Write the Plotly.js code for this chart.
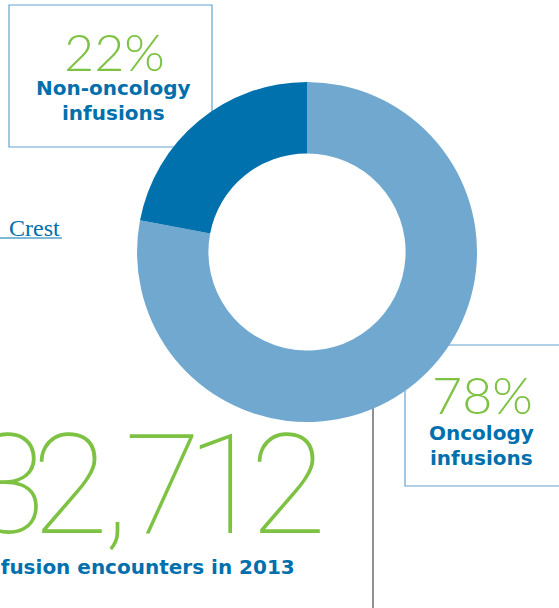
<!DOCTYPE html>
<html><head><meta charset="utf-8">
<script src="https://cdn.plot.ly/plotly-3.0.1.min.js"></script>
<style>html,body{margin:0;padding:0;background:#fff;overflow:hidden}#chart{width:559px;height:608px}</style>
</head><body><div id="chart"></div>
<script>
const categories = ["Oncology infusions", "Non-oncology infusions"];
const shares = [78, 22];
const sliceColors = ["#71a8d0", "#0071ad"];
const totalLabel = "32,712";
const totalCaption = "Infusion encounters in 2013";
const linkText = "Crest";

const W = 559, H = 608;
const px = x => x / W;
const py = y => 1 - y / H;
const green = "#7dc242", blue = "#0070ad", boxLine = "#62a2d1";
const light = {family: "Lato, 'Open Sans', sans-serif", weight: 300, color: green};
const thinBig = {family: "Roboto, Lato, sans-serif", weight: 100, color: green};
const bold = {family: "'DejaVu Sans', 'Liberation Sans', Arial, sans-serif", weight: 700, color: blue, size: 20};

const sp = (s, ls) => '<span style="letter-spacing:' + ls + 'px">' + s + '</span>';
const parts = totalLabel.split(",");
const bigText = sp(parts[0].slice(0, -1), -14) + sp(parts[0].slice(-1) + ",", -5) + sp(parts[1], -14);

const data = [{
  type: "pie",
  labels: categories,
  values: shares,
  sort: false,
  direction: "clockwise",
  rotation: 0,
  hole: 0.58,
  marker: {colors: sliceColors, line: {width: 0}},
  textinfo: "none",
  hoverinfo: "label+percent",
  showlegend: false,
  domain: {x: [px(137), px(477)], y: [py(422), py(82)]}
}];

const ann = (x, y, text, font, xanchor) => ({
  xref: "paper", yref: "paper", x: px(x), y: py(y), text: text,
  showarrow: false, font: font, xanchor: xanchor || "center", yanchor: "middle"
});

const layout = {
  width: W, height: H,
  margin: {l: 0, r: 0, t: 0, b: 0},
  paper_bgcolor: "#fff", plot_bgcolor: "#fff",
  shapes: [
    {type: "rect", xref: "paper", yref: "paper", layer: "below",
     x0: px(9), x1: px(212), y0: py(147), y1: py(5), line: {color: boxLine, width: 1.2}},
    {type: "rect", xref: "paper", yref: "paper", layer: "below",
     x0: px(405), x1: px(575), y0: py(486), y1: py(345), line: {color: boxLine, width: 1.2}},
    {type: "line", xref: "paper", yref: "paper", layer: "below",
     x0: px(373), x1: px(373), y0: py(608), y1: py(400), line: {color: "#555", width: 1.3}},
    {type: "line", xref: "paper", yref: "paper", layer: "below",
     x0: px(0), x1: px(62), y0: py(238), y1: py(238), line: {color: blue, width: 1}}
  ],
  annotations: [
    ann(114, 51, shares[1] + "%", Object.assign({size: 52}, light)),
    ann(113, 88, "Non-oncology", bold),
    ann(113, 113, "infusions", bold),
    ann(482, 394, shares[0] + "%", Object.assign({size: 52}, light)),
    ann(481, 433, "Oncology", bold),
    ann(481, 458, "infusions", bold),
    ann(322, 485, bigText, Object.assign({size: 140}, thinBig), "right"),
    ann(297, 567, totalCaption, bold, "right"),
    ann(62, 228, linkText, {family: "'Liberation Serif', 'DejaVu Serif', serif", size: 24, color: blue}, "right")
  ]
};

Plotly.newPlot("chart", data, layout, {displayModeBar: false, staticPlot: true});
</script>
</body></html>
